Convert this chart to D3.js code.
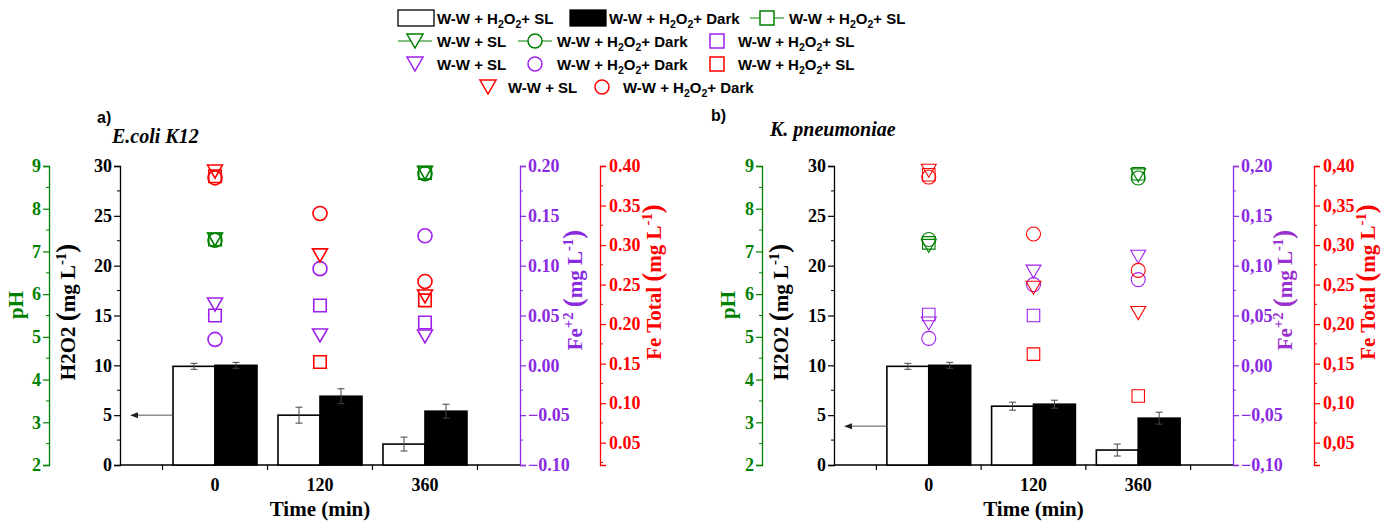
<!DOCTYPE html>
<html><head><meta charset="utf-8">
<script src="https://cdn.jsdelivr.net/npm/d3@7"></script>
<style>body{margin:0;background:#fff} svg{display:block}</style>
</head><body><svg id="c" width="1397" height="524"></svg>
<script>
// ---------- data ----------
const categories = ["0", "120", "360"];
const phTicks = [2, 3, 4, 5, 6, 7, 8, 9];
const h2o2Ticks = [0, 5, 10, 15, 20, 25, 30];
const fe2Ticks = [-0.10, -0.05, 0.00, 0.05, 0.10, 0.15, 0.20];
const feTotTicks = [0.05, 0.10, 0.15, 0.20, 0.25, 0.30, 0.35, 0.40];

// Panel a) E.coli K12
const a_h2o2SL = [9.9, 5.0, 2.1];
const a_h2o2SL_err = [0.3, 0.8, 0.7];
const a_h2o2Dark = [10.0, 6.9, 5.4];
const a_h2o2Dark_err = [0.3, 0.75, 0.7];
const a_pH_H2O2SL = [7.28, null, 8.84];
const a_pH_SL = [7.28, null, 8.84];
const a_pH_Dark = [7.26, null, 8.82];
const a_fe2_H2O2SL = [0.050, 0.060, 0.043];
const a_fe2_SL = [0.061, 0.030, 0.029];
const a_fe2_Dark = [0.026, 0.097, 0.130];
const a_feT_H2O2SL = [0.387, 0.152, 0.230];
const a_feT_SL = [0.393, 0.287, 0.235];
const a_feT_Dark = [0.385, 0.340, 0.254];
const a_arrowH2O2 = 5.0;

// Panel b) K. pneumoniae
const b_h2o2SL = [9.9, 5.9, 1.5];
const b_h2o2SL_err = [0.3, 0.4, 0.6];
const b_h2o2Dark = [10.0, 6.1, 4.7];
const b_h2o2Dark_err = [0.3, 0.4, 0.6];
const b_pH_H2O2SL = [7.2, null, 8.82];
const b_pH_SL = [7.13, null, 8.78];
const b_pH_Dark = [7.28, null, 8.72];
const b_fe2_H2O2SL = [0.051, 0.050, null];
const b_fe2_SL = [0.042, 0.094, 0.109];
const b_fe2_Dark = [0.027, 0.081, 0.086];
const b_feT_H2O2SL = [0.389, 0.162, 0.109];
const b_feT_SL = [0.394, 0.246, 0.214];
const b_feT_Dark = [0.386, 0.314, 0.268];
const b_arrowH2O2 = 3.9;

// ---------- style ----------
const GREEN = "#008000", PURPLE = "#8a2be2", PURPLE_M = "#a020f0", RED = "#ff0000";
const serif = "'Liberation Serif','Times New Roman',serif";
const sans = "'Liberation Sans',Arial,sans-serif";
const svg = d3.select("#c");

function rich(sel, parts, fs) {
  let shift = 0;
  parts.forEach(p => {
    const target = p.sub ? fs * 0.3 : p.sup ? -fs * 0.42 : 0;
    sel.append("tspan").attr("dy", target - shift)
      .attr("font-size", (p.sub || p.sup) ? fs * 0.7 : (p.fs || fs)).text(p.t);
    shift = target;
  });
  if (shift) sel.append("tspan").attr("dy", -shift).text("");
}

function markerPath(type, s) {
  if (type === "square") return `M${-s/2},${-s/2}h${s}v${s}h${-s}Z`;
  if (type === "circle") { const r = s / 2; return `M${-r},0a${r},${r} 0 1,0 ${2*r},0a${r},${r} 0 1,0 ${-2*r},0Z`; }
  const w = s * 1.15, h = s;
  return `M${-w/2},${-h/2}L${w/2},${-h/2}L0,${h/2}Z`;
}

function styleAxis(g, color, fs) {
  g.select(".domain").attr("stroke", color).attr("stroke-width", 1.3);
  g.selectAll(".tick line").attr("stroke", color).attr("stroke-width", 1.2);
  g.selectAll(".tick text").attr("fill", color).attr("font-family", serif)
    .attr("font-weight", "bold").attr("font-size", fs);
}

function minor(g, scale, vals, side, color, x) {
  g.selectAll(null).data(vals).join("line")
    .attr("x1", x).attr("x2", x + (side === "left" ? -3 : 3))
    .attr("y1", d => scale(d)).attr("y2", d => scale(d))
    .attr("stroke", color).attr("stroke-width", 1);
}

const panels = [
  { letter: "a)", title: "E.coli K12", letterX: 97, letterY: 123, titleX: 112, titleY: 143,
    phX: 49, x0: 120, x1: 520, feTX: 600, dec: ".", sw: 1.6,
    phLabelX: 23, h2o2LabelX: 75, fe2LabelX: 582, feTLabelX: 661,
    sl: a_h2o2SL, slErr: a_h2o2SL_err, dark: a_h2o2Dark, darkErr: a_h2o2Dark_err,
    ph: [a_pH_H2O2SL, a_pH_SL, a_pH_Dark], fe2: [a_fe2_H2O2SL, a_fe2_SL, a_fe2_Dark],
    feT: [a_feT_H2O2SL, a_feT_SL, a_feT_Dark], arrow: a_arrowH2O2 },
  { letter: "b)", title: "K. pneumoniae", letterX: 711, letterY: 121, titleX: 770, titleY: 136,
    phX: 762, x0: 834, x1: 1233, feTX: 1314, dec: ",", sw: 1.1,
    phLabelX: 735, h2o2LabelX: 788, fe2LabelX: 1292, feTLabelX: 1375,
    sl: b_h2o2SL, slErr: b_h2o2SL_err, dark: b_h2o2Dark, darkErr: b_h2o2Dark_err,
    ph: [b_pH_H2O2SL, b_pH_SL, b_pH_Dark], fe2: [b_fe2_H2O2SL, b_fe2_SL, b_fe2_Dark],
    feT: [b_feT_H2O2SL, b_feT_SL, b_feT_Dark], arrow: b_arrowH2O2 }
];
const types = ["square", "triangle", "circle"];
const Y0 = 465, Y1 = 166;

panels.forEach(P => {
  const g = svg.append("g");
  const x = d3.scaleLinear().domain([-0.905, 2.905]).range([P.x0, P.x1]);
  const yH = d3.scaleLinear().domain([0, 30]).range([Y0, Y1]);
  const yPH = d3.scaleLinear().domain([2, 9]).range([Y0, Y1]);
  const yFe2 = d3.scaleLinear().domain([-0.10, 0.20]).range([Y0, Y1]);
  const yFeT = d3.scaleLinear().domain([0.0218, 0.40]).range([Y0, Y1]);
  const fmt = v => d3.format(".2f")(v).replace(".", P.dec);

  // titles
  g.append("text").attr("x", P.letterX).attr("y", P.letterY).attr("font-family", sans)
    .attr("font-weight", "bold").attr("font-size", 16).text(P.letter);
  g.append("text").attr("x", P.titleX).attr("y", P.titleY).attr("font-family", serif)
    .attr("font-weight", "bold").attr("font-style", "italic").attr("font-size", 20).text(P.title);

  // axes
  const gPH = g.append("g").attr("transform", `translate(${P.phX},0)`)
    .call(d3.axisLeft(yPH).tickValues(phTicks).tickFormat(d3.format("d")).tickSize(6).tickPadding(2));
  styleAxis(gPH, GREEN, 18);
  minor(g, yPH, d3.range(2.5, 9, 1), "left", GREEN, P.phX);

  const gH = g.append("g").attr("transform", `translate(${P.x0},0)`)
    .call(d3.axisLeft(yH).tickValues(h2o2Ticks).tickFormat(d3.format("d")).tickSize(6).tickPadding(2));
  styleAxis(gH, "#000", 18);
  minor(g, yH, d3.range(2.5, 30, 5), "left", "#000", P.x0);

  const gF2 = g.append("g").attr("transform", `translate(${P.x1},0)`)
    .call(d3.axisRight(yFe2).tickValues(fe2Ticks).tickFormat(fmt).tickSize(6).tickPadding(2));
  styleAxis(gF2, PURPLE, 18);
  minor(g, yFe2, d3.range(-0.075, 0.2, 0.05), "right", PURPLE, P.x1);

  const gFT = g.append("g").attr("transform", `translate(${P.feTX},0)`)
    .call(d3.axisRight(yFeT).tickValues(feTotTicks).tickFormat(fmt).tickSize(6).tickPadding(3));
  styleAxis(gFT, RED, 18);
  minor(g, yFeT, d3.range(0.025, 0.40, 0.05), "right", RED, P.feTX);

  // x axis
  g.append("line").attr("x1", P.x0).attr("x2", P.x1).attr("y1", Y0).attr("y2", Y0)
    .attr("stroke", "#000").attr("stroke-width", 1.5);
  g.selectAll(null).data([-0.5, 0.5, 1.5, 2.5]).join("line")
    .attr("x1", d => x(d)).attr("x2", d => x(d)).attr("y1", Y0).attr("y2", Y0 + 5)
    .attr("stroke", "#000").attr("stroke-width", 1.2);
  g.selectAll(null).data(categories).join("text")
    .attr("x", (d, i) => x(i)).attr("y", 491).attr("text-anchor", "middle")
    .attr("font-family", serif).attr("font-weight", "bold").attr("font-size", 18).text(d => d);
  g.append("text").attr("x", (P.x0 + P.x1) / 2).attr("y", 516).attr("text-anchor", "middle")
    .attr("font-family", serif).attr("font-weight", "bold").attr("font-size", 21).text("Time (min)");

  // axis titles
  const rot = (cx, cy, color, parts, fs) => {
    const t = g.append("text").attr("transform", `translate(${cx},${cy}) rotate(-90)`)
      .attr("text-anchor", "middle").attr("dy", "0.35em").attr("fill", color)
      .attr("font-family", serif).attr("font-weight", "bold").attr("font-size", fs);
    rich(t, parts, fs);
  };
  rot(P.phLabelX, 305, GREEN, [{ t: "pH" }], 21);
  rot(P.h2o2LabelX, 312, "#000", [{ t: "H2O2 " }, { t: "(", fs: 27 }, { t: "mg L" }, { t: "-1", sup: true }, { t: ")", fs: 27 }], 21);
  rot(P.fe2LabelX, 290, P.dec === "." ? PURPLE : "#9b30d0", [{ t: "Fe" }, { t: "+2", sup: true }, { t: " " }, { t: "(", fs: 27 }, { t: "mg L" }, { t: "-1", sup: true }, { t: ")", fs: 27 }], 21);
  rot(P.feTLabelX, 282, RED, [{ t: "Fe Total " }, { t: "(", fs: 27 }, { t: "mg L" }, { t: "-1", sup: true }, { t: ")", fs: 27 }], 21);

  // bars
  const bw = 0.4;
  g.selectAll(null).data(P.sl).join("rect")
    .attr("x", (d, i) => x(i - bw)).attr("width", (d, i) => x(i) - x(i - bw))
    .attr("y", d => yH(d)).attr("height", d => Y0 - yH(d))
    .attr("fill", "#fff").attr("stroke", "#000").attr("stroke-width", 1.6);
  g.selectAll(null).data(P.dark).join("rect")
    .attr("x", (d, i) => x(i)).attr("width", (d, i) => x(i + bw) - x(i))
    .attr("y", d => yH(d)).attr("height", d => Y0 - yH(d))
    .attr("fill", "#000").attr("stroke", "#000").attr("stroke-width", 1.6);
  const errs = (vals, es, off) => {
    vals.forEach((v, i) => {
      const cx = x(i + off), lo = yH(v - es[i]), hi = yH(v + es[i]);
      g.append("line").attr("x1", cx).attr("x2", cx).attr("y1", lo).attr("y2", hi).attr("stroke", "#444").attr("stroke-width", 1);
      [lo, hi].forEach(yy => g.append("line").attr("x1", cx - 3.5).attr("x2", cx + 3.5).attr("y1", yy).attr("y2", yy).attr("stroke", "#444").attr("stroke-width", 1));
    });
  };
  errs(P.sl, P.slErr, -bw / 2);
  errs(P.dark, P.darkErr, bw / 2);

  // arrow
  const ay = yH(P.arrow), ax1 = x(-bw), ax2 = P.x0 + 10;
  g.append("line").attr("x1", ax1).attr("x2", ax2 + 6).attr("y1", ay).attr("y2", ay).attr("stroke", "#555").attr("stroke-width", 1);
  g.append("path").attr("d", `M${ax2},${ay}l8,-3v6Z`).attr("fill", "#222");

  // markers
  const drawSeries = (arr, scale, color, type) => {
    g.selectAll(null).data(arr.map((v, i) => ({ v, i })).filter(d => d.v != null)).join("path")
      .attr("transform", d => `translate(${x(d.i)},${scale(d.v)})`)
      .attr("d", markerPath(type, type === "triangle" ? 13 : type === "circle" ? 14 : 12.5))
      .attr("fill", "none").attr("stroke", color).attr("stroke-width", P.sw);
  };
  P.ph.forEach((arr, k) => drawSeries(arr, yPH, GREEN, types[k]));
  P.fe2.forEach((arr, k) => drawSeries(arr, yFe2, PURPLE_M, types[k]));
  P.feT.forEach((arr, k) => drawSeries(arr, yFeT, RED, types[k]));
});

// ---------- legend ----------
const L = svg.append("g");
const lab1 = [{ t: "W-W + H" }, { t: "2", sub: true }, { t: "O" }, { t: "2", sub: true }, { t: "+ SL" }];
const lab2 = [{ t: "W-W + H" }, { t: "2", sub: true }, { t: "O" }, { t: "2", sub: true }, { t: "+ Dark" }];
const labSL = [{ t: "W-W + SL" }];
const legendItems = [
  { kind: "box", fill: "#fff", sx: 398, tx: 437, y: 18, lab: lab1 },
  { kind: "box", fill: "#000", sx: 570, tx: 609, y: 18, lab: lab2 },
  { kind: "line", type: "square", color: GREEN, sx: 767, tx: 789, y: 18, lab: lab1 },
  { kind: "line", type: "triangle", color: GREEN, sx: 415, tx: 437, y: 41, lab: labSL },
  { kind: "line", type: "circle", color: GREEN, sx: 535, tx: 557, y: 41, lab: lab2 },
  { kind: "mk", type: "square", color: PURPLE_M, sx: 717, tx: 738, y: 41, lab: lab1 },
  { kind: "mk", type: "triangle", color: PURPLE_M, sx: 415, tx: 437, y: 64, lab: labSL },
  { kind: "mk", type: "circle", color: PURPLE_M, sx: 535, tx: 557, y: 64, lab: lab2 },
  { kind: "mk", type: "square", color: RED, sx: 717, tx: 738, y: 64, lab: lab1 },
  { kind: "mk", type: "triangle", color: RED, sx: 488, tx: 508, y: 87, lab: labSL },
  { kind: "mk", type: "circle", color: RED, sx: 602, tx: 623, y: 87, lab: lab2 }
];
legendItems.forEach(it => {
  if (it.kind === "box") {
    L.append("rect").attr("x", it.sx).attr("y", it.y - 8).attr("width", 36).attr("height", 16)
      .attr("fill", it.fill).attr("stroke", "#000").attr("stroke-width", 1.3);
  } else {
    if (it.kind === "line") L.append("line").attr("x1", it.sx - 17).attr("x2", it.sx + 17)
      .attr("y1", it.y).attr("y2", it.y).attr("stroke", it.color).attr("stroke-width", 1.2);
    L.append("path").attr("transform", `translate(${it.sx},${it.y})`)
      .attr("d", markerPath(it.type, 14))
      .attr("fill", it.kind === "line" ? "#fff" : "none").attr("stroke", it.color).attr("stroke-width", 1.5);
  }
  const t = L.append("text").attr("x", it.tx).attr("y", it.y + 5.5).attr("font-family", sans)
    .attr("font-weight", "bold").attr("font-size", 15);
  rich(t, it.lab, 15);
});
</script></body></html>
